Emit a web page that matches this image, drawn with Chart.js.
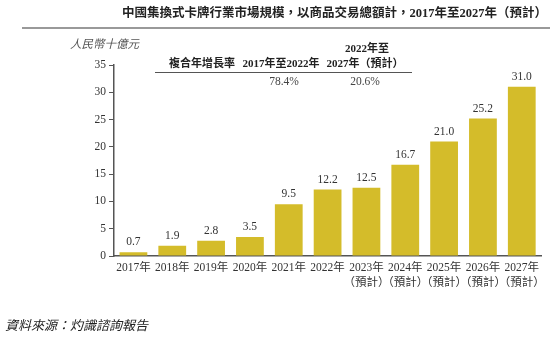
<!DOCTYPE html>
<html>
<head>
<meta charset="utf-8">
<script src="https://cdn.jsdelivr.net/npm/chart.js@4"></script>
<style>
  html, body { margin: 0; padding: 0; background: #fff; }
  #wrap { width: 550px; height: 346px; position: relative; }
</style>
</head>
<body>
<div id="wrap"><canvas id="c" width="550" height="346"></canvas></div>
<script>
// Market size (RMB billion), 2017–2027
const years = ['2017年', '2018年', '2019年', '2020年', '2021年', '2022年',
               '2023年', '2024年', '2025年', '2026年', '2027年'];
const forecast = [false, false, false, false, false, false, true, true, true, true, true];
const marketSize = [0.7, 1.9, 2.8, 3.5, 9.5, 12.2, 12.5, 16.7, 21.0, 25.2, 31.0];
const yTicks = [0, 5, 10, 15, 20, 25, 30, 35];
const cagrLabel = '複合年增長率';
const cagrPeriods = [['2017年至2022年'], ['2022年至', '2027年（預計）']];
const cagrValues = ['78.4%', '20.6%'];

const titleText = '中國集換式卡牌行業市場規模，以商品交易總額計，2017年至2027年（預計）';
const unitText = '人民幣十億元';
const sourceText = '資料來源：灼識諮詢報告';

const SERIF = '"Liberation Serif", "Noto Sans CJK TC", serif';
const CJK = '"Liberation Serif", "Noto Sans CJK TC", sans-serif';
const BAR = '#D4BC2A';
const TEXT = '#333333';

const labels = years.map((y, i) => forecast[i] ? [y, '（預計）'] : y);

const decor = {
  id: 'decor',
  afterDraw(chart) {
    const ctx = chart.ctx;
    ctx.save();
    // heading
    ctx.fillStyle = '#222';
    ctx.font = 'bold 12.5px ' + CJK;
    ctx.textAlign = 'right';
    ctx.textBaseline = 'middle';
    ctx.fillText(titleText, 547, 14);
    // rule under the heading
    ctx.strokeStyle = '#999';
    ctx.lineWidth = 2;
    ctx.beginPath();
    ctx.moveTo(22, 28);
    ctx.lineTo(550, 28);
    ctx.stroke();
    // unit label
    ctx.fillStyle = '#555';
    ctx.font = 'italic 11.5px ' + SERIF;
    ctx.textAlign = 'left';
    ctx.fillText(unitText, 70, 45);
    // CAGR table
    ctx.fillStyle = '#222';
    ctx.font = 'bold 11px ' + CJK;
    ctx.textAlign = 'center';
    ctx.fillText(cagrLabel, 202, 64);
    ctx.fillText(cagrPeriods[0][0], 281, 64);
    ctx.fillText(cagrPeriods[1][0], 367, 49);
    ctx.fillText(cagrPeriods[1][1], 365, 64);
    ctx.strokeStyle = '#555';
    ctx.lineWidth = 1;
    ctx.beginPath();
    ctx.moveTo(155, 72.5);
    ctx.lineTo(412, 72.5);
    ctx.stroke();
    ctx.fillStyle = '#444';
    ctx.font = '11.5px ' + SERIF;
    ctx.fillText(cagrValues[0], 284, 82);
    ctx.fillText(cagrValues[1], 365, 82);
    // bar value labels
    const meta = chart.getDatasetMeta(0);
    ctx.fillStyle = TEXT;
    ctx.font = '11.5px ' + SERIF;
    ctx.textBaseline = 'bottom';
    meta.data.forEach((bar, i) => {
      ctx.fillText(marketSize[i].toFixed(1), bar.x, bar.y - 4);
    });
    // source note
    ctx.fillStyle = '#222';
    ctx.font = 'italic 13px ' + SERIF;
    ctx.textAlign = 'left';
    ctx.textBaseline = 'middle';
    ctx.fillText(sourceText, 5, 327);
    ctx.restore();
  }
};

new Chart(document.getElementById('c'), {
  type: 'bar',
  data: {
    labels: labels,
    datasets: [{
      data: marketSize,
      backgroundColor: BAR,
      borderWidth: 0,
      barPercentage: 0.715,
      categoryPercentage: 1.0
    }]
  },
  options: {
    responsive: false,
    animation: false,
    devicePixelRatio: 1,
    layout: { padding: { top: 65, right: 5, left: 0, bottom: 0 } },
    plugins: { legend: { display: false }, tooltip: { enabled: false }, title: { display: false } },
    scales: {
      x: {
        grid: { display: false, drawTicks: false },
        border: { display: true, color: '#555', width: 1.5 },
        ticks: { color: TEXT, font: { family: SERIF, size: 11.5, lineHeight: 1.25 }, padding: 5, maxRotation: 0, autoSkip: false },
        afterFit(scale) { scale.height = 90; }
      },
      y: {
        min: 0, max: 35,
        afterBuildTicks(scale) { scale.ticks = yTicks.map(v => ({ value: v })); },
        grid: { drawOnChartArea: false, drawTicks: true, tickLength: 5, color: '#555', lineWidth: 1 },
        border: { display: true, color: '#555', width: 1.5 },
        ticks: { color: TEXT, font: { family: SERIF, size: 11.5 }, padding: 3 },
        afterFit(scale) { scale.width = 114; }
      }
    }
  },
  plugins: [decor]
});
</script>
</body>
</html>
